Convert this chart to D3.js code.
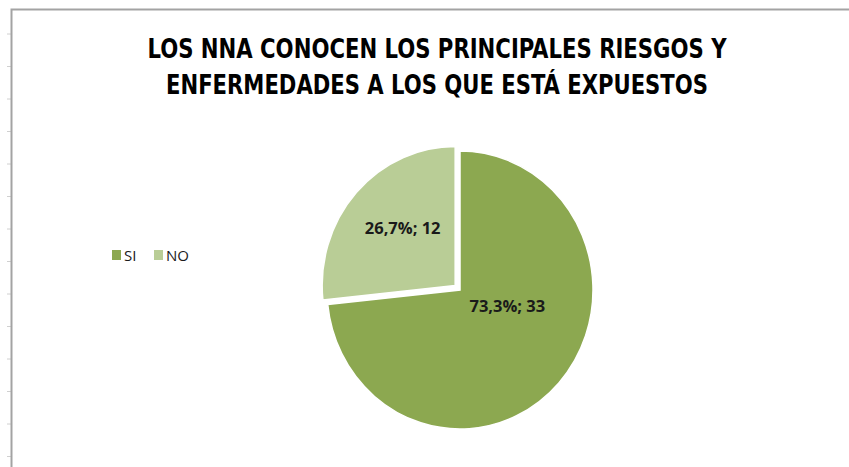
<!DOCTYPE html>
<html>
<head>
<meta charset="utf-8">
<script src="https://cdn.jsdelivr.net/npm/d3@7"></script>
<style>
  body { margin: 0; background: #fff; }
  svg { display: block; }
</style>
</head>
<body>
<script>
// data
const categories = ['SI', 'NO']
const counts = [33, 12]
const percentLabels = ['73,3%', '26,7%']
const titleLines = ['LOS NNA CONOCEN LOS PRINCIPALES RIESGOS Y', 'ENFERMEDADES A LOS QUE ESTÁ EXPUESTOS']

var width = 849,
    height = 467

var colors = d3.scaleOrdinal()
    .domain(categories)
    .range(['#8ca850', '#b9cd96'])

var svg = d3.select('body').append('svg')
    .attr('width', width)
    .attr('height', height)

// spreadsheet gridline stubs outside the chart frame
svg.append('g').selectAll('line')
    .data(d3.range(34, height, 32.5)).enter()
    .append('line')
    .attr('x1', 7).attr('x2', 11)
    .attr('y1', d => d).attr('y2', d => d)
    .attr('stroke', '#d0d0d0')

// chart frame
svg.append('path')
    .attr('d', `M11.5,${height} V9.5 H${width}`)
    .attr('fill', 'none')
    .attr('stroke', '#a3a3a3')
    .attr('stroke-width', 2)

var fontStack = '"Liberation Sans Narrow", "Arial Narrow", "DejaVu Sans Condensed", sans-serif'

// title
var titleWidths = [579, 542]
svg.append('g').selectAll('text')
    .data(titleLines).enter()
    .append('text')
    .attr('x', 437)
    .attr('y', (d, i) => 58 + i * 36)
    .attr('text-anchor', 'middle')
    .style('font-family', fontStack)
    .style('font-weight', 'bold')
    .style('font-size', '26px')
    .style('fill', '#000')
    .text(d => d)
    .each(function(d, i) {
        let w = this.getComputedTextLength()
        if (Math.abs(w - titleWidths[i]) > 4) {
            d3.select(this).attr('textLength', titleWidths[i]).attr('lengthAdjust', 'spacingAndGlyphs')
        }
    })

// pie
var cx = 460, cy = 290,
    r = 133,
    squash = 139 / 133,
    explode = [0, 6.5]

var pie = d3.pie().sort(null).value(d => d)
var arcs = pie(counts)

var arc = d3.arc().innerRadius(0).outerRadius(r)

var pieG = svg.append('g')
    .attr('transform', `translate(${cx},${cy}) scale(1,${squash})`)

pieG.selectAll('.slice')
    .data(arcs).enter()
    .append('path')
    .attr('class', 'slice')
    .attr('transform', (d, i) => {
        let a = (d.startAngle + d.endAngle) / 2
        return `translate(${Math.sin(a) * explode[i]},${-Math.cos(a) * explode[i]})`
    })
    .attr('d', arc)
    .attr('fill', (d, i) => colors(categories[i]))
    .attr('stroke', '#fff')
    .attr('stroke-width', 1.5)

// data labels
var labelArc = d3.arc().innerRadius(r * 0.56).outerRadius(r * 0.56)
var labelNudge = [[-8, -36], [-2, -10]]
svg.append('g').selectAll('text')
    .data(arcs).enter()
    .append('text')
    .attr('x', (d, i) => cx + labelArc.centroid(d)[0] + labelNudge[i][0])
    .attr('y', (d, i) => cy + labelArc.centroid(d)[1] * squash + labelNudge[i][1] + 6)
    .attr('text-anchor', 'middle')
    .style('font-family', '"Open Sans", sans-serif')
    .style('font-weight', 'bold')
    .style('font-size', '16.5px')
    .style('fill', '#1a1a1a')
    .text((d, i) => `${percentLabels[i]}; ${counts[i]}`)

// legend
var legend = svg.append('g')
    .attr('transform', 'translate(112,250)')
    .selectAll('.legend')
    .data(categories).enter()
    .append('g')
    .attr('class', 'legend')
    .attr('transform', (d, i) => `translate(${i * 42},0)`)

legend.append('rect')
    .attr('width', 9)
    .attr('height', 10)
    .attr('fill', d => colors(d))

legend.append('text')
    .attr('x', 12)
    .attr('y', 11)
    .style('font-family', '"Open Sans", sans-serif')
    .style('font-size', '15px')
    .style('fill', '#1a1a1a')
    .text(String)
</script>
</body>
</html>
